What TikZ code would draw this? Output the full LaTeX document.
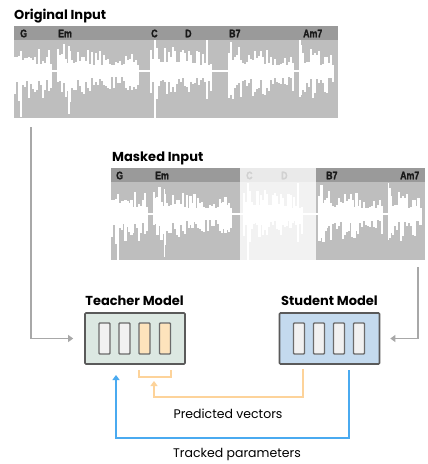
\documentclass[tikz,border=0pt]{standalone}
\usepackage{fontspec}
\setmainfont{Poppins}
\newfontfamily\chordfont[FakeStretch=0.8, UprightFont={Liberation Sans Bold}, FakeBold=1.5]{Liberation Sans}
\usetikzlibrary{arrows.meta}
\definecolor{hdr}{HTML}{9A9A9A}
\definecolor{bodyc}{HTML}{BEBEBE}
\definecolor{arrgray}{HTML}{A8A8A8}
\definecolor{boxline}{HTML}{5A5A5A}
\definecolor{teachfill}{HTML}{DCE8E2}
\definecolor{studfill}{HTML}{C4DAEE}
\definecolor{barfill}{HTML}{F1F1F1}
\definecolor{peach}{HTML}{FDE3BC}
\definecolor{orangel}{HTML}{FDD39A}
\definecolor{bluel}{HTML}{4AAAF0}
\newcommand{\mywave}[3]{%
  \pgfmathsetseed{4242}%
  \foreach \s/\e/\a in {0/36/33, 43/124/31, 136/196/32, 214/278/31, 286/318/27}{%
    \pgfmathtruncatemacro\n{(\e-\s)/2}%
    \foreach \k in {0,...,\n}{%
      \pgfmathsetmacro\d{2*\k}%
      \pgfmathsetmacro\env{\a*(0.5+0.5*exp(-\d/30))}%
      \pgfmathsetmacro\ra{rnd}%
      \pgfmathsetmacro\rb{rnd}%
      \pgfmathsetmacro\up{\env*(0.3+0.75*\ra^1.5)}%
      \pgfmathsetmacro\dn{\env*(0.3+0.75*\rb^1.5)*1.15}%
      \pgfmathsetmacro\xx{#1+#2*(\s+\d)}%
      \fill[white] (\xx-1.1,#3-\up) rectangle (\xx+1.1,#3+\dn);
    }%
  }%
  \draw[white,line width=1.5pt] (#1,#3) -- ({#1+#2*318},#3);
  \draw[white,line width=1.6pt] ({#1+#2*140},#3-31) -- ({#1+#2*140},#3+47);
  \draw[white,line width=1.6pt] ({#1+#2*192},#3-31) -- ({#1+#2*192},#3+28);
  \draw[white,line width=1.6pt] ({#1+#2*285},#3-31) -- ({#1+#2*285},#3+26);
  \draw[white,line width=1.6pt] ({#1+#2*6},#3-20) -- ({#1+#2*6},#3+46);
  \draw[white,line width=1.6pt] ({#1+#2*54},#3-25) -- ({#1+#2*54},#3+43);
}
\tikzset{
  title/.style={font=\fontsize{13}{15}\selectfont\bfseries, inner sep=0pt},
  chord/.style={font=\chordfont\fontsize{11}{12}\selectfont, text=black!90, inner sep=0pt, anchor=west},
  model/.style={draw=boxline, line width=1.7pt, rounded corners=1pt, minimum width=100pt, minimum height=51pt, inner sep=0pt},
  vbar/.style={draw=boxline!90, line width=1.4pt, rounded corners=0.8pt, minimum width=11pt, minimum height=31pt, inner sep=0pt},
  garrow/.style={draw=arrgray, line width=1.8pt, -{Triangle[width=7pt,length=5pt]}},
  lbl/.style={font=\fontsize{12.5}{14}\selectfont, inner sep=0pt},
}
\begin{document}
\begin{tikzpicture}[x=1pt,y=-1pt]
\useasboundingbox[fill=white] (0,0) rectangle (428,464);
% ---------- Original input ----------
\node[title, anchor=base west] (otitle) at (14,19) {Original Input};
\fill[bodyc] (14,40) rectangle (338,118);
\fill[hdr] (14,26) rectangle (338,40);
\begin{scope}
\clip (14,40) rectangle (338,118);
\mywave{15}{1}{71}
\end{scope}
\node[chord] (oG) at (20,33.5) {G};
\node[chord] (oEm) at (58,33.5) {Em};
\node[chord] (oC) at (151,33.5) {C};
\node[chord] (oD) at (185,33.5) {D};
\node[chord] (oB) at (229,33.5) {B7};
\node[chord] (oA) at (303,33.5) {Am7};
\coordinate (oin) at (31,127);
% ---------- Masked input ----------
\node[title, anchor=base west] (mtitle) at (112,161) {Masked Input};
\fill[bodyc] (111,182) rectangle (425,260);
\fill[hdr] (111,168) rectangle (425,182);
\begin{scope}
\clip (111,182) rectangle (425,260);
\mywave{112}{0.97}{214}
\end{scope}
\node[chord] (mG) at (116,175.5) {G};
\node[chord] (mEm) at (155,175.5) {Em};
\node[chord] (mC) at (246,175.5) {C};
\node[chord] (mD) at (281,175.5) {D};
\node[chord] (mB) at (326,175.5) {B7};
\node[chord] (mA) at (400,175.5) {Am7};
\fill[white, opacity=0.8] (240,168) rectangle (316,260);
\coordinate (min) at (418,267);
% ---------- Models ----------
\node[title, anchor=base] (ttitle) at (134.5,305) {Teacher Model};
\node[title, anchor=base] (stitle) at (329.5,305) {Student Model};
\node[model, fill=teachfill] (teacher) at (135,338.5) {};
\node[model, fill=studfill] (student) at (329.5,338.5) {};
\node[vbar, fill=barfill] (t1) at (104.5,338.5) {};
\node[vbar, fill=barfill] (t2) at (124.5,338.5) {};
\node[vbar, fill=peach] (t3) at (144.5,338.5) {};
\node[vbar, fill=peach] (t4) at (165,338.5) {};
\node[vbar, fill=barfill] (s1) at (299,338.5) {};
\node[vbar, fill=barfill] (s2) at (319,338.5) {};
\node[vbar, fill=barfill] (s3) at (339,338.5) {};
\node[vbar, fill=barfill] (s4) at (359,338.5) {};
% ---------- Input arrows ----------
\draw[garrow, shorten >=11pt] (oin) |- (teacher.west);
\draw[garrow, shorten >=10pt] (min) |- (student.east);
% ---------- Predicted vectors ----------
\coordinate (b1) at (139,370);
\coordinate (b2) at (171,370);
\coordinate (bmid) at (154,381);
\coordinate (pv0) at (303,369);
\draw[orangel, line width=1.8pt] (b1) -- ++(0,7) -| (b2);
\draw[orangel, line width=1.8pt, -{Triangle[width=7pt,length=5pt]}] (pv0) -- (303,397) -| (bmid);
\node[lbl] (pvl) at (228,414) {Predicted vectors};
% ---------- Tracked parameters ----------
\coordinate (tp0) at (349,370);
\coordinate (tp1) at (116,375);
\draw[bluel, line width=1.8pt, -{Triangle[width=7pt,length=5pt]}] (tp0) -- (349,438) -| (tp1);
\node[lbl] (tpl) at (237,454) {Tracked parameters};
\end{tikzpicture}
\end{document}
